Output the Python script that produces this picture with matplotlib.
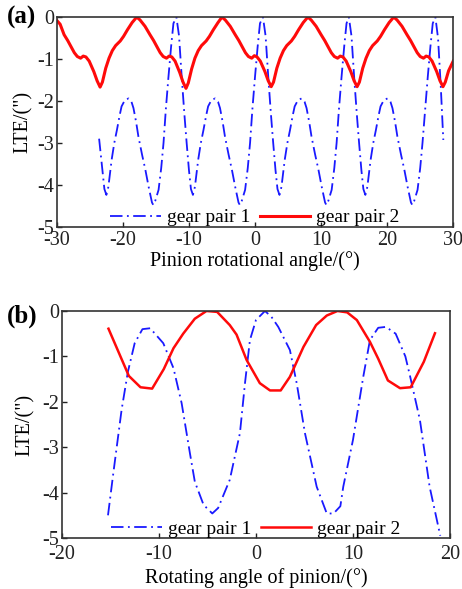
import matplotlib
matplotlib.use("Agg")
import matplotlib.pyplot as plt

plt.rcParams['font.family'] = ['Liberation Serif', 'DejaVu Serif']
plt.rcParams['axes.unicode_minus'] = False
plt.rcParams['lines.scale_dashes'] = False

# ---------------- panel (a) data ----------------
a_red_x = [-30.0, -29.5, -28.9, -28.35, -27.8, -27.35, -26.9, -26.4, -26.0, -25.6, -25.1, -24.4, -23.9, -23.45, -23.1, -22.6, -22.1, -21.6, -21.1, -20.4, -19.9, -19.3, -18.6,
           -17.9, -17.4, -16.65, -15.9, -15.35, -14.8, -14.35, -13.9, -13.4, -13.0, -12.6, -12.1, -11.4, -10.9, -10.45, -10.1, -9.6, -9.1, -8.6, -8.1, -7.4, -6.9, -6.3, -5.6,
           -5.0, -4.5, -3.75, -3.0, -2.45, -1.9, -1.45, -1.0, -0.5, -0.1, 0.3, 0.8, 1.5, 2.0, 2.45, 2.8, 3.3, 3.8, 4.3, 4.8, 5.5, 6.0, 6.6, 7.3,
           8.0, 8.5, 9.25, 10.0, 10.55, 11.1, 11.55, 12.0, 12.5, 12.9, 13.3, 13.8, 14.5, 15.0, 15.45, 15.8, 16.3, 16.8, 17.3, 17.8, 18.5, 19.0, 19.6, 20.3,
           21.0, 21.5, 22.25, 23.0, 23.55, 24.1, 24.55, 25.0, 25.5, 25.9, 26.3, 26.8, 27.5, 28.0, 28.45, 28.8, 29.3, 30.0]
a_red_y = [-0.08, -0.17, -0.42, -0.56, -0.72, -0.85, -0.94, -0.98, -0.93, -0.95, -1.05, -1.30, -1.52, -1.67, -1.55, -1.22, -0.98, -0.80, -0.68, -0.57, -0.46, -0.30, -0.13,
           0.0, -0.07, -0.22, -0.42, -0.56, -0.72, -0.85, -0.94, -0.98, -0.93, -0.95, -1.05, -1.32, -1.55, -1.70, -1.57, -1.24, -0.98, -0.80, -0.68, -0.57, -0.46, -0.30, -0.13,
           0.0, -0.07, -0.22, -0.42, -0.56, -0.72, -0.85, -0.94, -0.98, -0.92, -0.95, -1.05, -1.30, -1.52, -1.66, -1.55, -1.22, -0.98, -0.80, -0.68, -0.57, -0.46, -0.30, -0.13,
           0.0, -0.07, -0.22, -0.42, -0.56, -0.72, -0.85, -0.94, -0.98, -0.93, -0.95, -1.05, -1.30, -1.52, -1.66, -1.55, -1.22, -0.98, -0.80, -0.68, -0.57, -0.46, -0.30, -0.13,
           0.0, -0.07, -0.22, -0.42, -0.56, -0.72, -0.85, -0.94, -0.98, -0.93, -0.95, -1.05, -1.30, -1.52, -1.66, -1.55, -1.28, -1.05]

a_blue_x = [-23.6, -23.1, -22.8, -22.5, -22.2, -21.7, -21.3, -20.9, -20.5, -20.2, -19.7, -19.15, -18.7, -18.4, -18.0, -17.65, -17.1, -16.6, -16.1, -15.6, -15.4, -15.1, -14.6, -14.2, -13.85, -13.5, -13.1, -12.7, -12.35,
            -11.9, -11.5, -11.1, -10.7, -10.35, -10.0, -9.7, -9.4, -9.1, -8.6, -8.2, -7.8, -7.4, -7.1, -6.6, -6.05, -5.6, -5.3, -4.9, -4.55, -4.0, -3.5, -3.0, -2.5, -2.3, -2.0, -1.5, -1.1, -0.75, -0.4, 0.0, 0.4, 0.75,
            1.2, 1.6, 2.0, 2.4, 2.75, 3.1, 3.4, 3.7, 4.0, 4.5, 4.9, 5.3, 5.7, 6.0, 6.5, 7.05, 7.5, 7.8, 8.2, 8.55, 9.1, 9.6, 10.1, 10.6, 10.8, 11.1, 11.6, 12.0, 12.35, 12.7, 13.1, 13.5, 13.85,
            14.2, 14.6, 15.0, 15.4, 15.75, 16.1, 16.4, 16.7, 17.0, 17.5, 17.9, 18.3, 18.7, 19.0, 19.5, 20.05, 20.5, 20.8, 21.2, 21.55, 22.1, 22.6, 23.1, 23.6, 23.8, 24.1, 24.6, 25.0, 25.35, 25.75, 26.15, 26.55, 26.9,
            27.3, 27.7, 28.1, 28.5]
a_blue_y = [-2.9, -3.65, -4.1, -4.24, -4.05, -3.4, -3.0, -2.69, -2.35, -2.13, -1.98, -1.94, -2.02, -2.17, -2.5, -2.85, -3.28, -3.64, -4.05, -4.42, -4.48, -4.38, -4.12, -3.6, -3.0, -2.2, -1.42, -0.7, -0.15,
            0.0, -0.45, -1.42, -2.3, -3.0, -3.65, -4.1, -4.24, -4.05, -3.4, -3.0, -2.69, -2.35, -2.13, -1.98, -1.94, -2.02, -2.17, -2.5, -2.85, -3.28, -3.64, -4.05, -4.42, -4.48, -4.38, -4.12, -3.6, -3.0, -2.2, -1.42, -0.7, -0.15,
            0.0, -0.45, -1.42, -2.3, -3.0, -3.65, -4.1, -4.24, -4.05, -3.4, -3.0, -2.69, -2.35, -2.13, -1.98, -1.94, -2.02, -2.17, -2.5, -2.85, -3.28, -3.64, -4.05, -4.42, -4.48, -4.38, -4.12, -3.6, -3.0, -2.2, -1.42, -0.7, -0.15,
            0.0, -0.45, -1.42, -2.3, -3.0, -3.65, -4.1, -4.24, -4.05, -3.4, -3.0, -2.69, -2.35, -2.13, -1.98, -1.94, -2.02, -2.17, -2.5, -2.85, -3.28, -3.64, -4.05, -4.42, -4.48, -4.38, -4.12, -3.6, -3.0, -2.2, -1.42, -0.7, -0.15,
            0.0, -0.5, -1.6, -2.93]

# ---------------- panel (b) data ----------------
b_red_x = [-15.2, -13.1, -11.9, -10.7, -9.5, -8.5, -7.5, -6.3, -5.1, -4.0, -2.7, -2.0, -0.96, 0.4, 1.45, 2.55, 3.5, 4.9, 6.2, 7.3, 8.4, 9.4, 10.4, 11.75, 12.6, 13.6, 14.85, 15.95, 17.3, 18.45]
b_red_y = [-0.39, -1.43, -1.68, -1.71, -1.28, -0.82, -0.5, -0.17, 0.0, -0.02, -0.31, -0.52, -1.08, -1.59, -1.75, -1.75, -1.45, -0.79, -0.31, -0.1, 0.0, -0.03, -0.2, -0.68, -1.05, -1.53, -1.70, -1.68, -1.12, -0.49]

b_blue_x = [-15.25, -14.7, -13.85, -13.2, -12.5, -11.7, -10.9, -9.55, -8.5, -7.66, -6.8, -6.3, -5.4, -4.5, -3.9, -2.7, -1.65, -1.13, -0.62, 0.0, 0.93, 1.6, 2.3, 3.5, 4.2, 5.05, 6.26, 7.3, 8.0, 8.7, 9.0, 10.0, 11.06, 11.75, 12.6, 13.4, 14.4, 15.4, 15.9, 16.9, 17.9, 19.0]
b_blue_y = [-4.5, -3.57, -2.18, -1.34, -0.71, -0.40, -0.38, -0.71, -1.26, -2.03, -3.14, -3.76, -4.27, -4.46, -4.34, -3.72, -2.69, -1.59, -0.64, -0.2, 0.0, -0.13, -0.35, -0.86, -1.59, -2.69, -3.87, -4.46, -4.46, -4.3, -3.87, -2.84, -1.45, -0.64, -0.37, -0.35, -0.5, -1.0, -1.45, -2.4, -3.87, -4.95]

a_xticks = [-30, -20, -10, 0, 10, 20, 30]
b_xticks = [-20, -10, 0, 10, 20]
yticks = [0, -1, -2, -3, -4, -5]

BLUE = '#1a1aff'
RED = '#ff0a0a'
TICK_FS = 14.5
LABEL_FS = 14.5
LEG_FS = 14

fig = plt.figure(figsize=(4.62, 5.89), dpi=100)
ax1 = fig.add_axes([0.123, 0.615, 0.858, 0.356])
ax2 = fig.add_axes([0.134, 0.0866, 0.840, 0.3854])

dash = (0, (9, 3.2, 1.3, 3.2))

def style(ax, xlim, xticks, xlabel, xpad, xlabelpad, ylabelpad):
    ax.set_xlim(*xlim)
    ax.set_ylim(-5, 0)
    ax.set_xticks(xticks)
    ax.set_yticks(yticks)
    ax.set_yticklabels([str(t) for t in yticks])
    ax.set_xticklabels([str(t) for t in xticks])
    ax.tick_params(direction='in', length=3.5, width=1.0, labelsize=TICK_FS, colors='#222222')
    ax.tick_params(axis='x', pad=xpad)
    ax.tick_params(axis='y', pad=2)
    for s in ax.spines.values():
        s.set_color('#333333')
        s.set_linewidth(1.2)
    ax.set_xlabel(xlabel, fontsize=LABEL_FS, labelpad=xlabelpad)
    ax.set_ylabel('LTE/(")', fontsize=LABEL_FS, labelpad=ylabelpad)

ax1.plot(a_blue_x, a_blue_y, color=BLUE, lw=1.3, linestyle=dash, label='gear pair 1')
ax1.plot(a_red_x, a_red_y, color=RED, lw=2.2, solid_joinstyle='round', label='gear pair 2')
style(ax1, (-30, 30), a_xticks, 'Pinion rotational angle/(°)', 3, 1, 3)

ax2.plot(b_blue_x, b_blue_y, color=BLUE, lw=1.3, linestyle=dash, label='gear pair 1')
ax2.plot(b_red_x, b_red_y, color=RED, lw=1.8, solid_joinstyle='round', label='gear pair 2')
style(ax2, (-20, 20), b_xticks, 'Rotating angle of pinion/(°)', 5, 3, 5)

for ax in (ax1, ax2):
    ax.legend(loc='lower center', ncol=2, frameon=False, fontsize=LEG_FS,
              handlelength=2.6, handletextpad=0.3, columnspacing=0.5,
              borderaxespad=0.0, bbox_to_anchor=(0.5, -0.035))

fig.text(0.015, 0.971, '(a)', fontsize=18, fontweight='bold', va='center', ha='left')
fig.text(0.015, 0.463, '(b)', fontsize=18, fontweight='bold', va='center', ha='left')

fig.savefig('out.png', dpi=100)
